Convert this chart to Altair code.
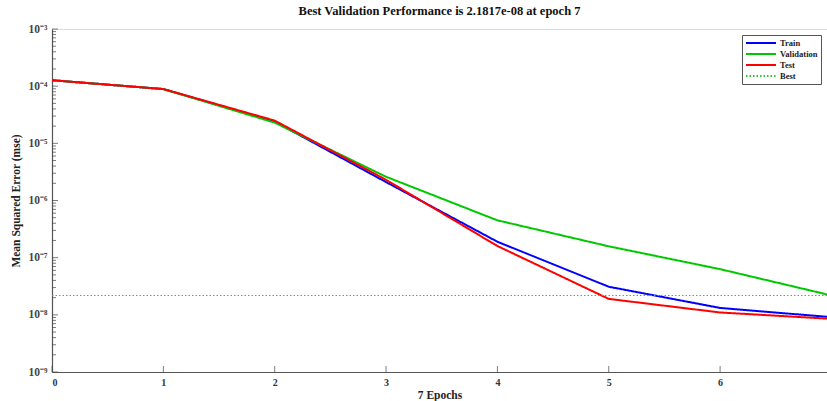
import altair as alt
import pandas as pd

epochs = [0, 1, 2, 3, 4, 5, 6, 7]
train = [1.27e-4, 8.9e-5, 2.4e-5, 2.1e-6, 1.9e-7, 3.1e-8, 1.32e-8, 9.1e-9]
validation = [1.27e-4, 8.9e-5, 2.3e-5, 2.6e-6, 4.5e-7, 1.58e-7, 6.3e-8, 2.1817e-8]
test = [1.27e-4, 8.9e-5, 2.5e-5, 2.3e-6, 1.6e-7, 1.9e-8, 1.1e-8, 8.5e-9]
best_value = 2.1817e-8
best_epochs = [0, 7]

series_names = ["Train", "Validation", "Test", "Best"]
series_colors = ["#0000ff", "#00c800", "#ff0000", "#2fc42f"]
series_dash = [[1, 0], [1, 0], [1, 0], [1.5, 2]]

major_ticks = [1e-3, 1e-4, 1e-5, 1e-6, 1e-7, 1e-8, 1e-9]
minor_ticks = [m * 10.0 ** e for e in range(-9, -3) for m in range(2, 10)]
x_ticks = [0, 1, 2, 3, 4, 5, 6]

rows = []
for name, vals in [("Train", train), ("Validation", validation), ("Test", test)]:
    for e, v in zip(epochs, vals):
        rows.append({"epoch": e, "mse": v, "series": name})
for e in best_epochs:
    rows.append({"epoch": e, "mse": best_value, "series": "Best"})
df = pd.DataFrame(rows)

FONT = "Liberation Serif"
W, H = 775, 343

xscale = alt.Scale(domain=[0, 6.96], nice=False, zero=False)
yscale = alt.Scale(type="log", domain=[1e-9, 1e-3], nice=False)

sup = "['⁰','¹','²','³','⁴','⁵','⁶','⁷','⁸','⁹'][-round(log(datum.value)/LN10)]"

lines = alt.Chart(df).mark_line(clip=True).encode(
    x=alt.X("epoch:Q", scale=xscale,
            axis=alt.Axis(values=x_ticks, title="7 Epochs", ticks=False, grid=False,
                          format="d",
                          labelFont=FONT, labelFontWeight="bold", labelFontSize=10,
                          labelColor="#333333", labelPadding=5,
                          titleFont=FONT, titleFontWeight="bold", titleFontSize=11.5,
                          titleColor="#222222", titlePadding=2,
                          domainColor="#555555", domainWidth=1.2)),
    y=alt.Y("mse:Q", scale=yscale,
            axis=alt.Axis(values=major_ticks, title="Mean Squared Error  (mse)",
                          ticks=False, grid=False,
                          labelExpr="'10⁻' + " + sup,
                          labelFont=FONT, labelFontWeight="bold", labelFontSize=11.5,
                          labelColor="#444444", labelPadding=5,
                          titleFont=FONT, titleFontWeight="bold", titleFontSize=11.5,
                          titleColor="#222222", titlePadding=7,
                          domainColor="#555555", domainWidth=1.2)),
    color=alt.Color("series:N", sort=series_names,
                    scale=alt.Scale(domain=series_names, range=series_colors),
                    legend=alt.Legend(title=None, orient="none", legendX=690, legendY=6,
                                      symbolType="stroke", symbolSize=900,
                                      symbolStrokeWidth=2, clipHeight=10,
                                      labelFont=FONT, labelFontWeight="bold",
                                      labelFontSize=8.5, labelColor="#222222",
                                      strokeColor="#555555", fillColor="white",
                                      padding=3, rowPadding=1, labelOffset=3)),
    strokeDash=alt.StrokeDash("series:N", sort=series_names,
                              scale=alt.Scale(domain=series_names, range=series_dash),
                              legend=None),
    strokeWidth=alt.condition(alt.datum.series == "Best", alt.value(1), alt.value(2)),
    detail="series:N",
)

ydf = pd.DataFrame({"v": major_ticks})
ymdf = pd.DataFrame({"v": minor_ticks})
xdf = pd.DataFrame({"e": x_ticks})

ymajor = alt.Chart(ydf).mark_tick(color="#444444", thickness=1, size=6, orient="horizontal").encode(
    y=alt.Y("v:Q", scale=yscale), x=alt.value(3))
yminor = alt.Chart(ymdf).mark_tick(color="#444444", thickness=1, size=4, orient="horizontal").encode(
    y=alt.Y("v:Q", scale=yscale), x=alt.value(2))
xt = alt.Chart(xdf).mark_tick(color="#444444", thickness=1, size=6, orient="vertical").encode(
    x=alt.X("e:Q", scale=xscale), y=alt.value(H - 3))

chart = alt.layer(ymajor, yminor, xt, lines).properties(
    width=W, height=H,
    title=alt.TitleParams("Best Validation Performance is 2.1817e-08 at epoch 7",
                          font=FONT, fontWeight="bold", fontSize=12.5, color="#111111",
                          anchor="middle", offset=6),
    autosize=alt.AutoSizeParams(type="none"),
    padding={"left": 52, "top": 29, "right": 0, "bottom": 29},
).configure_view(strokeWidth=0).configure(background="white")

chart.save("out.html", embed_options={"renderer": "svg", "actions": False})
